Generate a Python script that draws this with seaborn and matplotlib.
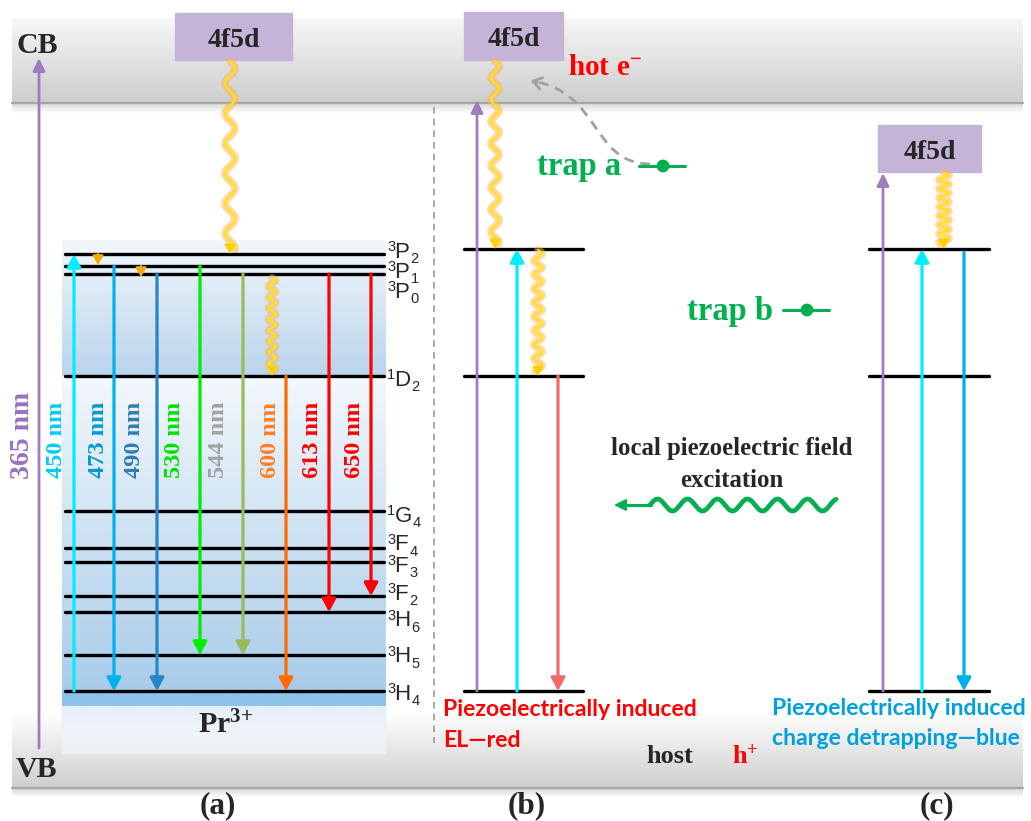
import numpy as np
import pandas as pd
import matplotlib
matplotlib.use("Agg")
import matplotlib.pyplot as plt
import seaborn as sns
from matplotlib.patches import FancyArrowPatch, Rectangle, PathPatch
from matplotlib.path import Path
from matplotlib.colors import to_rgb

# ---------------- data ----------------
# Pr3+ term levels in panel (a) (schematic energy axis, smaller = higher)
terms_a = ["3P2", "3P1", "3P0", "1D2", "1G4", "3F4", "3F3", "3F2", "3H6", "3H5", "3H4"]
energy_a = [254, 266, 274, 376, 511, 548, 562, 596, 612, 655, 691]

# simplified schemes in panels (b) and (c): 3P, 1D2, 3H4
energy_bc = [249, 376, 691]
cb_level = 58      # conduction band edge reached by 365 nm excitation
vb_level = 748

# optical transitions in panel (a)
wl_nm = [450, 473, 490, 530, 544, 600, 613, 650]
wl_from = ["3H4", "3P1", "3P0", "3P1", "3P0", "1D2", "3P0", "3P0"]
wl_to = ["3P2", "3H4", "3H4", "3H5", "3H5", "3H4", "3H6", "3F2"]
wl_line_colors = ["#00EEFF", "#00B2EE", "#2486C6", "#00EE00", "#9BBB59",
                  "#FF6A00", "#FF0000", "#FF0000"]
wl_text_colors = ["#00CCFF", "#0099D8", "#2F7DB5", "#00E000", "#A3A3A3",
                  "#FF7F27", "#FF0000", "#FF0000"]

# ---------------- layout ----------------
wl_x = [74, 114, 157, 200, 243, 286, 329, 371]
wl_label_x = [56, 98, 135, 175, 218, 270, 312, 354]
term_label_y = [250, 270, 290, 378, 514, 543, 564, 592, 619, 655, 692]

E = dict(zip(terms_a, energy_a))

sns.set_theme(style="white")
plt.rcParams["font.family"] = ["Liberation Serif", "DejaVu Sans"]
plt.rcParams["mathtext.fontset"] = "custom"
plt.rcParams["mathtext.rm"] = "Liberation Sans"
plt.rcParams["mathtext.it"] = "Liberation Sans:italic"
plt.rcParams["mathtext.bf"] = "Liberation Serif:bold"

fig = plt.figure(figsize=(10.31, 8.21), dpi=100)
ax = fig.add_axes([0, 0, 1, 1])
PURPLE = "#9D7DBE"
BOX = "#C5B4D8"
GREEN = "#00B050"
LETTER_EM = {"P": 0.667, "D": 0.722, "G": 0.778, "F": 0.611, "H": 0.722}


def vgrad(x0, x1, ytop, ybot, ctop, cbot, z=0, a_top=1.0, a_bot=1.0):
    t = np.linspace(0, 1, 256)[:, None]
    c0, c1 = np.array(to_rgb(ctop)), np.array(to_rgb(cbot))
    rgb = c0 * (1 - t) + c1 * t
    alpha = (a_top * (1 - t) + a_bot * t)
    arr = np.concatenate([rgb, alpha], axis=1)[:, None, :]
    ax.imshow(arr, extent=[x0, x1, ybot, ytop], origin="upper",
              aspect="auto", zorder=z, interpolation="bilinear")


def arrow(x, y0, y1, color, lw=2.2, hl=0.78, hw=0.42, ms=10, z=5):
    ax.add_patch(FancyArrowPatch((x, y0), (x, y1),
                                 arrowstyle=f"-|>,head_length={hl},head_width={hw}",
                                 mutation_scale=ms, color=color, lw=lw,
                                 shrinkA=0, shrinkB=0, zorder=z))


def wavy(x, y0, y1, amp, period, z=6):
    y = np.linspace(y0, y1 - 5, 600)
    xs = x + amp * np.sin(2 * np.pi * (y - y0) / period)
    ax.plot(xs, y, color="#FFB247", lw=5.5, alpha=0.5, zorder=z,
            solid_capstyle="round")
    ax.plot(xs, y, color="#FFE21A", lw=1.5, zorder=z + 0.1)
    ax.add_patch(FancyArrowPatch((x, y1 - 8), (x, y1),
                                 arrowstyle="-|>,head_length=0.6,head_width=0.35",
                                 mutation_scale=10, color="#FFD000", lw=1,
                                 shrinkA=0, shrinkB=0, zorder=z + 0.2))


def term_label(x, yc, term, size=16):
    """Spectroscopic term such as 3P2 drawn as superscript, letter, subscript."""
    mult, letter, j = term[0], term[1], term[2]
    small = size * 0.66
    ax.text(x, yc + 1, mult, fontsize=small, family="Liberation Sans",
            ha="left", va="baseline", zorder=7)
    lx = x + 7.5
    ax.text(lx, yc + 7.5, letter, fontsize=size, family="Liberation Sans",
            ha="left", va="baseline", zorder=7)
    w = LETTER_EM[letter] * size * 100 / 72
    ax.text(lx + w + 1.2, yc + 13, j, fontsize=small, family="Liberation Sans",
            ha="left", va="baseline", zorder=7)


# ---------------- background bands ----------------
vgrad(12, 1023, 18, 103, "#F7F7F7", "#CDCDCD", z=0)
ax.plot([12, 1023], [103, 103], color="#A6A6A6", lw=1.6, zorder=0.5)
vgrad(12, 1023, 104, 113, "#DADADA", "#FFFFFF", z=0)
vgrad(12, 1023, 712, 788, "#FFFFFF", "#CECECE", z=0)
ax.plot([12, 1023], [788, 788], color="#A6A6A6", lw=1.6, zorder=0.5)
vgrad(12, 1023, 789, 797, "#D8D8D8", "#FFFFFF", z=0)

# Pr3+ host box in panel (a)
vgrad(62, 386, 240, 376, "#F2F7FC", "#BAD4EC", z=1)
vgrad(62, 386, 376, 691, "#F3F8FC", "#A9CCEA", z=1)
vgrad(62, 386, 691, 706, "#8DC2EA", "#8DC2EA", z=1)
vgrad(62, 386, 706, 754, "#E4EFF9", "#F4F8FC", z=1, a_top=1.0, a_bot=0.6)

# ---------------- energy levels (seaborn) ----------------
rows = []
for name, e in zip(terms_a, energy_a):
    rows += [dict(level="a" + name, x=65, E=e), dict(level="a" + name, x=384, E=e)]
for i, e in enumerate(energy_bc):
    rows += [dict(level=f"b{i}", x=464, E=e), dict(level=f"b{i}", x=583, E=e)]
    rows += [dict(level=f"c{i}", x=869, E=e), dict(level=f"c{i}", x=989, E=e)]
levels = pd.DataFrame(rows)
sns.lineplot(data=levels, x="x", y="E", units="level", estimator=None,
             color="black", lw=2.4, sort=False, legend=False, ax=ax, zorder=3)

for term, y in zip(terms_a, term_label_y):
    term_label(387, y, term)

# ---------------- panel (a) transitions ----------------
arrow(39, vb_level, cb_level, PURPLE, lw=2.0, hl=0.75, hw=0.36)
ax.text(23, 435, "365 nm", color="#9B70C0", fontsize=20, fontweight="bold",
        rotation=90, ha="center", va="center", zorder=7)

for nm, f, t, lc, tc, x, lx in zip(wl_nm, wl_from, wl_to, wl_line_colors,
                                   wl_text_colors, wl_x, wl_label_x):
    arrow(x, E[f], E[t], lc, lw=2.3)
    ax.text(lx, 440, f"{nm} nm", color=tc, fontsize=17.5, fontweight="bold",
            rotation=90, ha="center", va="center", zorder=7)

# non-radiative relaxation 3P2 -> 3P1 -> 3P0
arrow(98, E["3P2"], E["3P1"] - 1, "#F5A800", lw=1.6, hl=0.6, hw=0.35, ms=9)
arrow(141, E["3P1"], E["3P0"] + 3, "#F5A800", lw=1.6, hl=0.6, hw=0.35, ms=9)

# 4f5d states
for (x0, x1, y0, y1) in [(175, 292, 13, 60), (464, 563, 12, 60), (878, 981, 125, 172)]:
    ax.add_patch(Rectangle((x0, y0), x1 - x0, y1 - y0, color=BOX, zorder=2))
    ax.text((x0 + x1) / 2, y0 + 34, "4f5d", fontsize=20, fontweight="bold",
            ha="center", va="baseline", zorder=7)

wavy(230, 61, E["3P2"], 5, 30)
wavy(272, 278, E["1D2"], 3.5, 11)

ax.text(16, 53, "CB", fontsize=21.5, fontweight="bold", ha="left", va="baseline", zorder=7)
ax.text(16, 777, "VB", fontsize=21.5, fontweight="bold", ha="left", va="baseline", zorder=7)
ax.text(198, 733, r"$\mathbf{Pr^{3{+}}}$", fontsize=21.5, ha="left", va="baseline", zorder=7)

# separator
ax.plot([434, 434], [107, 743], ls=(0, (4, 3)), color="#9A9A9A", lw=1.2, zorder=2)

# ---------------- panel (b) ----------------
arrow(477, energy_bc[2], 100, PURPLE, lw=2.0, hl=0.75, hw=0.36)
wavy(495, 61, energy_bc[0], 4, 22)
arrow(517, energy_bc[2], energy_bc[0], "#00EEFF", lw=2.3)
wavy(538, 250, energy_bc[1], 4, 14)
arrow(558, energy_bc[1], energy_bc[2], "#F26B6B", lw=2.3)

ax.text(568, 75, r"$\mathbf{hot\ e^{-}}$", color="#FF0000", fontsize=21,
        ha="left", va="baseline", zorder=7)

# electron release path from trap a to the conduction band
curve = Path([(650, 164), (590, 163), (602, 92), (532, 81)],
             [Path.MOVETO, Path.CURVE4, Path.CURVE4, Path.CURVE4])
ax.add_patch(PathPatch(curve, fill=False, ec="#A0A0A0", lw=2.0,
                       ls=(0, (3.5, 2.5)), zorder=4))
ax.annotate("", xy=(528, 80), xytext=(540, 83),
            arrowprops=dict(arrowstyle="->,head_length=0.5,head_width=0.35",
                            color="#A0A0A0", lw=2.0), zorder=4)

trap_x = [663, 807]
trap_y = [166, 310]
for tx, ty in zip(trap_x, trap_y):
    ax.plot([tx - 24, tx + 22], [ty, ty], color=GREEN, lw=2.2, zorder=5)
sns.scatterplot(x=trap_x, y=trap_y, color=GREEN, s=85, edgecolor="none",
                ax=ax, zorder=6, legend=False)
ax.text(537, 175, "trap a", color=GREEN, fontsize=23.5, fontweight="bold",
        ha="left", va="baseline", zorder=7)
ax.text(687, 320, "trap b", color=GREEN, fontsize=23.5, fontweight="bold",
        ha="left", va="baseline", zorder=7)

ax.text(732, 455, "local piezoelectric field", fontsize=17.8, fontweight="bold",
        ha="center", va="baseline", zorder=7)
ax.text(732, 487, "excitation", fontsize=17.8, fontweight="bold",
        ha="center", va="baseline", zorder=7)

# field excitation wave
wx = np.linspace(650, 836, 500)
wy = 505 - 6 * np.sin(2 * np.pi * (wx - 650) / 30)
ax.plot(wx, wy, color=GREEN, lw=3.4, zorder=5, solid_capstyle="round")
ax.plot([626, 651], [505, 505], color=GREEN, lw=2.2, zorder=5)
ax.add_patch(FancyArrowPatch((632, 505), (614, 505),
                             arrowstyle="-|>,head_length=0.7,head_width=0.35",
                             mutation_scale=10, color=GREEN, lw=1.5,
                             shrinkA=0, shrinkB=0, zorder=5))

ax.text(443, 716, "Piezoelectrically induced", color="#FF0000", fontsize=16.6,
        fontweight="bold", family="Lato", ha="left", va="baseline", zorder=7)
ax.text(443, 747, "EL\u2014red", color="#FF0000", fontsize=16.6,
        fontweight="bold", family="Lato", ha="left", va="baseline", zorder=7)
ax.text(646, 763, "host", fontsize=19, fontweight="bold", ha="left",
        va="baseline", zorder=7)
ax.text(732, 763, r"$\mathbf{h^{+}}$", color="#FF0000", fontsize=19,
        ha="left", va="baseline", zorder=7)

# ---------------- panel (c) ----------------
arrow(883, energy_bc[2], 173, PURPLE, lw=2.0, hl=0.75, hw=0.36)
wavy(944, 173, energy_bc[0], 5, 9)
arrow(922, energy_bc[2], energy_bc[0], "#00EEFF", lw=2.3)
arrow(964, energy_bc[0] + 3, energy_bc[2], "#00AEEF", lw=2.3)

ax.text(772, 715, "Piezoelectrically induced", color="#00A0E0", fontsize=16.6,
        fontweight="bold", family="Lato", ha="left", va="baseline", zorder=7)
ax.text(772, 745, "charge detrapping\u2014blue", color="#00A0E0", fontsize=16.6,
        fontweight="bold", family="Lato", ha="left", va="baseline", zorder=7)

for x, lab in zip([218, 527, 937], ["(a)", "(b)", "(c)"]):
    ax.text(x, 806, lab, fontsize=22.5, fontweight="bold", ha="center",
            va="center", zorder=7)

ax.set_xlim(0, 1031)
ax.set_ylim(821, 0)
ax.axis("off")
fig.savefig("out.png", dpi=100, facecolor="white")
